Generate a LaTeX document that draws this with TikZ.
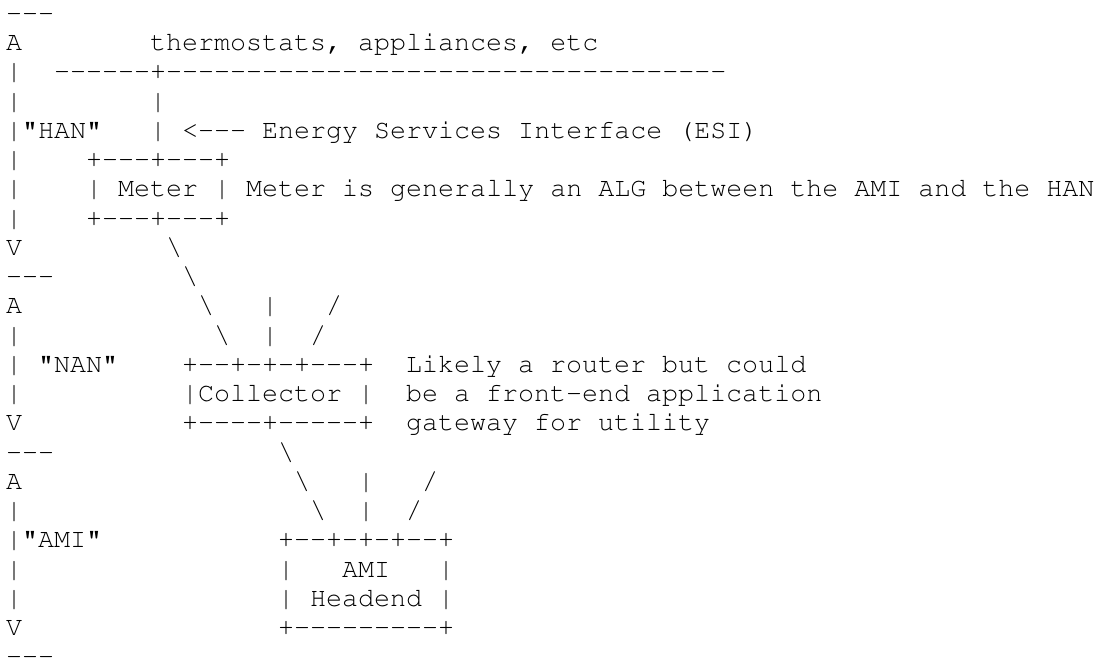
\documentclass[tikz,border=0pt]{standalone}
\IfFileExists{t1pcr.fd}
  {\usepackage[T1]{fontenc}\renewcommand\ttdefault{pcr}}
  {\usepackage{fontspec}\setmonofont{Liberation Mono}}
\usepackage{tikz}
\frenchspacing

\newcommand\asciifont{\ttfamily\fontsize{26.67}{29.25}\selectfont}
\newcommand\hyph[1]{\foreach\k in {1,...,#1}{-}}
\tikzset{asc/.style={anchor=base west, inner sep=0pt, font=\asciifont}}

\begin{document}
\begin{tikzpicture}[x=16pt, y=-29.25pt, shift={(6pt,-21.4pt)}]
    \useasboundingbox (-6pt,21.4pt) rectangle (1094pt,-639.6pt);

    % left axis
    \node[asc] (top) at (0,0) {\hyph{3}};
    \node[asc] (hanUp) at (0,1) {A};
    \node[asc] (hanA) at (0,2) {|};
    \node[asc] (hanB) at (0,3) {|};
    \node[asc] (hanC) at (0,4) {|};
    \node[asc] (hanD) at (0,5) {|};
    \node[asc] (hanE) at (0,6) {|};
    \node[asc] (hanF) at (0,7) {|};
    \node[asc] (hanDown) at (0,8) {V};
    \node[asc] (sep1) at (0,9) {\hyph{3}};
    \node[asc] (nanUp) at (0,10) {A};
    \node[asc] (nanA) at (0,11) {|};
    \node[asc] (nanB) at (0,12) {|};
    \node[asc] (nanC) at (0,13) {|};
    \node[asc] (nanDown) at (0,14) {V};
    \node[asc] (sep2) at (0,15) {\hyph{3}};
    \node[asc] (amiUp) at (0,16) {A};
    \node[asc] (amiA) at (0,17) {|};
    \node[asc] (amiB) at (0,18) {|};
    \node[asc] (amiC) at (0,19) {|};
    \node[asc] (amiD) at (0,20) {|};
    \node[asc] (amiDown) at (0,21) {V};
    \node[asc] (bottom) at (0,22) {\hyph{3}};

    \node[asc] (han) at (1,4) {"HAN"};
    \node[asc] (nan) at (2,12) {"NAN"};
    \node[asc] (ami) at (1,18) {"AMI"};

    % HAN
    \node[asc] (devices) at (9,1) {thermostats, appliances, etc};
    \node[asc] (bus) at (3,2) {\hyph{6}+\hyph{35}};
    \node[asc] (esiA) at (9,3) {|};
    \node[asc] (esi) at (9,4) {| <\hyph{3} Energy Services Interface (ESI)};
    \node[asc] (meterTop) at (5,5) {+\hyph{3}+\hyph{3}+};
    \node[asc] (meter) at (5,6) {| Meter | Meter is generally an ALG between the AMI and the HAN};
    \node[asc] (meterBot) at (5,7) {+\hyph{3}+\hyph{3}+};

    % NAN
    \node[asc] (lnA) at (10,8) {\textbackslash};
    \node[asc] (lnB) at (11,9) {\textbackslash};
    \node[asc] (lnC) at (12,10) {\textbackslash};
    \node[asc] (lnD) at (13,11) {\textbackslash};
    \node[asc] (lvA) at (16,10) {|};
    \node[asc] (lvB) at (16,11) {|};
    \node[asc] (lsA) at (20,10) {/};
    \node[asc] (lsB) at (19,11) {/};
    \node[asc] (collTop) at (11,12) {+\hyph{2}+-+-+\hyph{3}+};
    \node[asc] (coll) at (11,13) {|Collector |};
    \node[asc] (collBot) at (11,14) {+\hyph{4}+\hyph{5}+};
    \node[asc] (noteA) at (25,12) {Likely a router but could};
    \node[asc] (noteB) at (25,13) {be a front-end application};
    \node[asc] (noteC) at (25,14) {gateway for utility};

    % AMI
    \node[asc] (laA) at (17,15) {\textbackslash};
    \node[asc] (laB) at (18,16) {\textbackslash};
    \node[asc] (laC) at (19,17) {\textbackslash};
    \node[asc] (laV) at (22,16) {|};
    \node[asc] (laW) at (22,17) {|};
    \node[asc] (laS) at (26,16) {/};
    \node[asc] (laT) at (25,17) {/};
    \node[asc] (headTop) at (17,18) {+\hyph{2}+-+-+\hyph{2}+};
    \node[asc] (headL1) at (17,19) {|};
    \node[asc] (headA) at (21,19) {AMI};
    \node[asc] (headR1) at (27,19) {|};
    \node[asc] (head) at (17,20) {| Headend |};
    \node[asc] (headBot) at (17,21) {+\hyph{9}+};
\end{tikzpicture}
\end{document}
